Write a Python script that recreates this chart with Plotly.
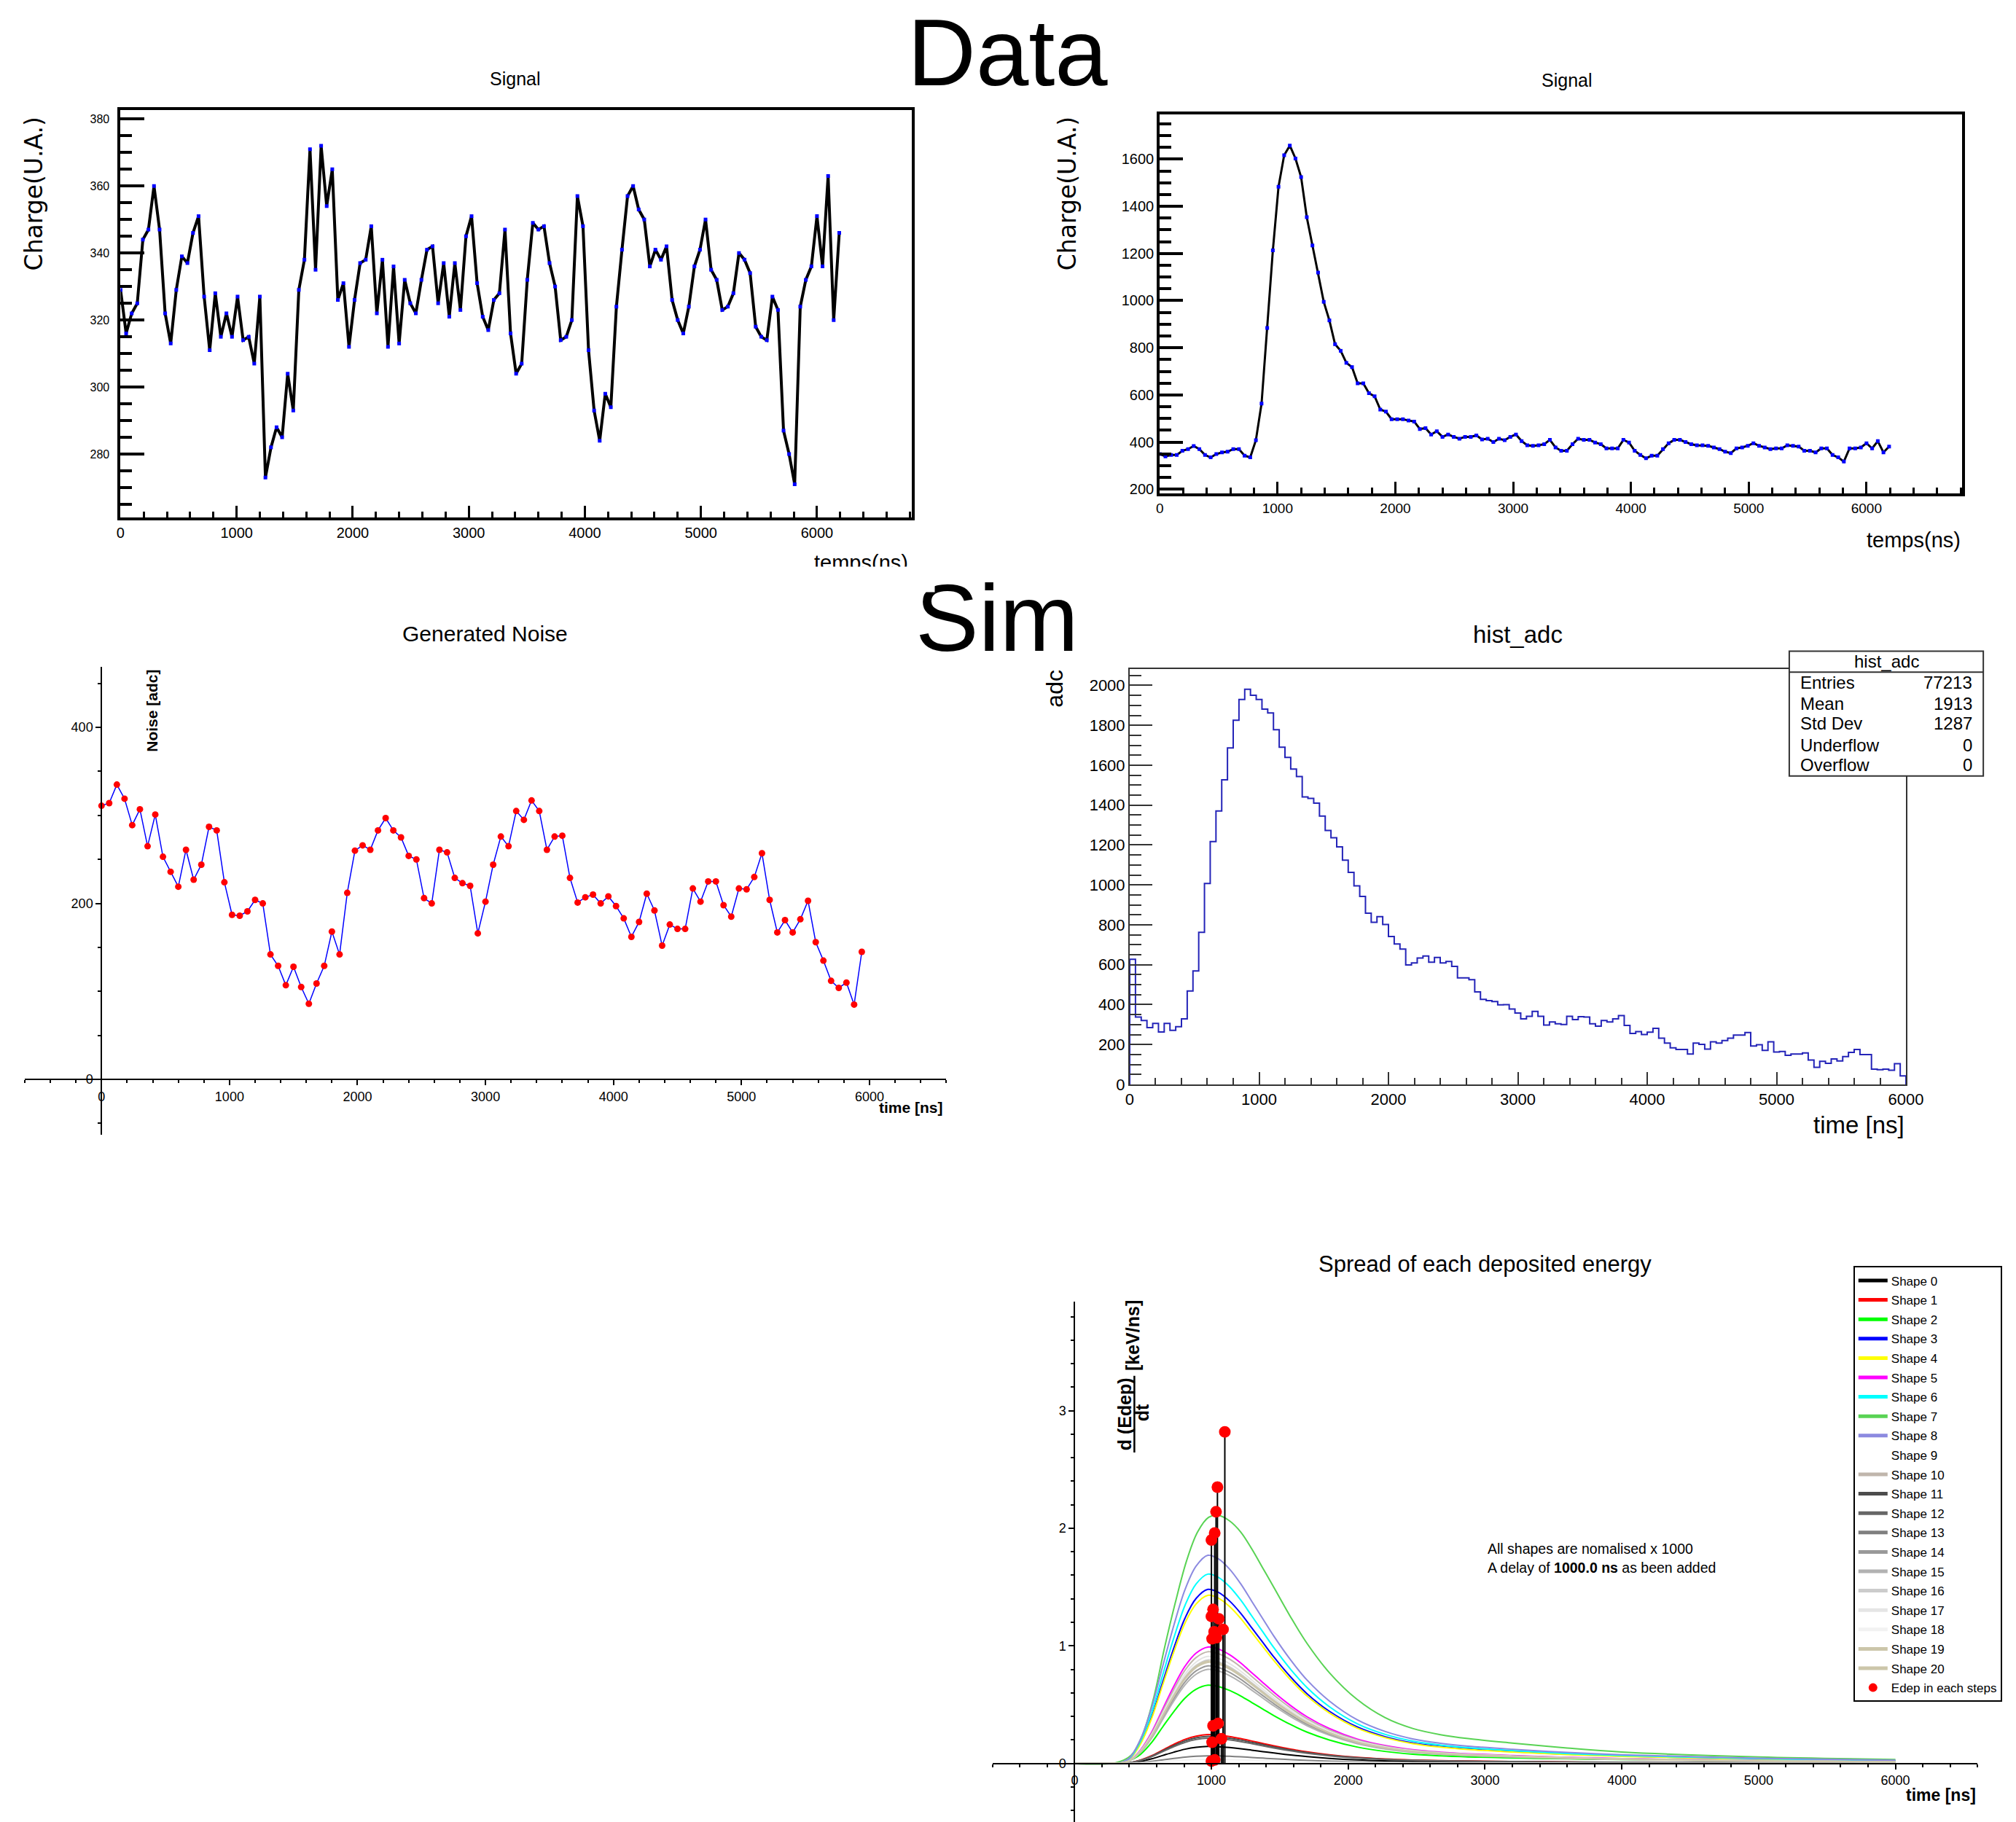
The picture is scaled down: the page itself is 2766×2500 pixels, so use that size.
import plotly.graph_objects as go

# ---------------- data ----------------
signal_sample_ns = 48
signal1_charge = [
    329, 316, 322, 325, 344, 347, 360, 347, 322, 313,
    329, 339, 337, 346, 351, 327, 311, 328, 315, 322,
    315, 327, 314, 315, 307, 327, 273, 282, 288, 285,
    304, 293, 329, 338, 371, 335, 372, 354, 365, 326,
    331, 312, 326, 337, 338, 348, 322, 338, 312, 336,
    313, 332, 325, 322, 332, 341, 342, 325, 337, 321,
    337, 323, 345, 351, 331, 321, 317, 326, 328, 347,
    316, 304, 307, 332, 349, 347, 348, 337, 330, 314,
    315, 320, 357, 348, 311, 293, 284, 298, 294, 324,
    341, 357, 360, 353, 350, 336, 341, 338, 342, 326,
    320, 316, 324, 336, 341, 350, 335, 332, 323, 324,
    328, 340, 338, 334, 318, 315, 314, 327, 323, 287,
    280, 271, 324, 332, 336, 351, 336, 363, 320, 346]

signal2_charge = [
    349, 339, 345, 345, 363, 370, 383, 370, 345, 335,
    349, 356, 359, 370, 370, 342, 335, 408, 563, 884,
    1213, 1483, 1617, 1658, 1603, 1524, 1354, 1234, 1119, 995,
    916, 815, 787, 736, 718, 649, 649, 607, 594, 538,
    529, 497, 497, 497, 491, 487, 455, 459, 432, 446,
    422, 432, 422, 414, 422, 422, 428, 411, 414, 400,
    414, 408, 422, 432, 404, 386, 384, 386, 391, 409,
    377, 363, 363, 391, 414, 409, 409, 398, 391, 373,
    373, 373, 409, 398, 363, 345, 331, 342, 342, 370,
    395, 409, 409, 400, 391, 386, 386, 384, 377, 370,
    359, 353, 373, 377, 384, 395, 384, 377, 370, 373,
    373, 386, 384, 381, 363, 363, 356, 373, 373, 345,
    335, 317, 373, 373, 377, 395, 373, 404, 356, 381]

noise_sample_ns = 60
noise_adc = [
    311, 314, 335, 319, 289, 307, 265, 301, 253, 236,
    219, 261, 227, 244, 287, 283, 224, 187, 186, 191,
    204, 200, 142, 129, 107, 128, 105, 86, 109, 129,
    168, 142, 212, 260, 266, 261, 283, 297, 283, 275,
    254, 250, 206, 200, 261, 258, 229, 223, 220, 166,
    202, 244, 276, 265, 305, 295, 317, 305, 261, 276,
    277, 229, 201, 207, 210, 200, 208, 197, 183, 162,
    179, 211, 192, 152, 176, 171, 171, 217, 202, 225,
    225, 198, 185, 217, 216, 230, 257, 204, 167, 181,
    167, 182, 203, 156, 135, 112, 104, 110, 85, 145]

hist_range_ns = [0, 6000]
hist_adc_counts = [
    627, 338, 320, 285, 306, 263, 306, 271, 289, 329,
    468, 569, 762, 1007, 1217, 1371, 1527, 1687, 1825, 1930,
    1981, 1951, 1930, 1881, 1862, 1778, 1690, 1639, 1581, 1543,
    1441, 1434, 1410, 1345, 1273, 1236, 1191, 1124, 1063, 995,
    942, 858, 813, 841, 802, 741, 704, 678, 599, 609,
    634, 644, 613, 636, 609, 616, 592, 534, 534, 525,
    464, 426, 420, 415, 399, 400, 378, 358, 329, 341,
    366, 341, 298, 313, 304, 300, 341, 325, 340, 338,
    304, 292, 320, 313, 329, 345, 296, 256, 265, 250,
    262, 281, 232, 207, 183, 175, 175, 152, 207, 201,
    177, 214, 207, 220, 232, 247, 247, 260, 193, 199,
    171, 214, 162, 165, 146, 152, 152, 158, 122, 86,
    116, 106, 128, 118, 140, 161, 175, 150, 150, 77,
    74, 77, 71, 104, 43]
hist_stats_labels = ["Entries", "Mean", "Std Dev", "Underflow", "Overflow"]
hist_stats_values = ["77213", "1913", "1287", "0", "0"]

shape_names = ["Shape %d" % i for i in range(21)]
shape_peak = [0.145, 0.245, 0.665, 1.48, 1.43, 0.99, 1.61, 2.11, 1.77, 0.5,
              0.95, 0.23, 0.215, 0.065, 0.83, 0.80, 0.88, 0.91, 0.035, 0.87, 0.86]
shape_profile = ["std"] * 7 + ["wide"] + ["std"] * 13
profile_std_t = [0, 250, 341, 402, 483, 564, 645, 726, 807, 888, 974, 1051, 1132, 1214,
                 1295, 1376, 1457, 1578, 1700, 1862, 2065, 2268, 2471, 2674, 2877, 3200,
                 3600, 4000, 5000, 6000]
profile_std_v = [0, 0, 0.005, 0.027, 0.118, 0.27, 0.47, 0.665, 0.835, 0.948, 1.0, 0.983,
                 0.934, 0.863, 0.779, 0.695, 0.611, 0.498, 0.40, 0.30, 0.21, 0.154, 0.118,
                 0.097, 0.083, 0.068, 0.053, 0.042, 0.025, 0.015]
profile_wide_t = [0, 300, 413, 494, 575, 656, 737, 818, 899, 980, 1051, 1132, 1214, 1295,
                  1376, 1457, 1578, 1700, 1862, 2065, 2268, 2471, 2674, 2877, 3200, 3600,
                  4000, 5000, 6000]
profile_wide_v = [0, 0.003, 0.033, 0.112, 0.258, 0.463, 0.65, 0.816, 0.933, 0.992, 1.0,
                  0.978, 0.933, 0.865, 0.787, 0.709, 0.591, 0.483, 0.366, 0.258, 0.185,
                  0.141, 0.116, 0.100, 0.082, 0.062, 0.046, 0.026, 0.016]
edep_t = [1098, 1044, 1034, 1024, 1000, 1012, 1000, 1054, 1020, 1085, 1005, 1037,
          1012, 1049, 1005, 1073, 1024, 1000]
edep_v = [2.82, 2.35, 2.14, 1.96, 1.90, 1.31, 1.25, 1.23, 1.12, 1.14, 1.06, 1.07,
          0.32, 0.34, 0.18, 0.21, 0.03, 0.02]

# ---------------- styles ----------------
shape_colors = ["#000000", "#ff0000", "#00ff00", "#0000ff", "#ffff00", "#ff00ff", "#00ffff",
                "#59d354", "#8c8ae0", "#ffffff", "#c0b6ac", "#4c4c4c", "#666666", "#7f7f7f",
                "#999999", "#b2b2b2", "#cccccc", "#e5e5e5", "#f2f2f2", "#ccc6aa", "#ccc6aa"]

# layout is designed in a 2766x2500 pixel space and expressed as paper fractions
W, H = 2766, 2500
FIG_W, FIG_H = 2786, 2518
def fx(p): return p / W
def fy(p): return 1 - p / H

NARROW = "Liberation Sans Narrow, Arial Narrow, Liberation Sans, sans-serif"
SANS = "Liberation Sans, Arial, sans-serif"

fig = go.Figure()

# Panel 1
t1 = [i * signal_sample_ns for i in range(len(signal1_charge))]
fig.add_trace(go.Scatter(x=t1, y=signal1_charge, mode="lines+markers", xaxis="x", yaxis="y",
                         line=dict(color="black", width=4),
                         marker=dict(symbol="square", size=5, color="#0000ff"),
                         showlegend=False))
# Panel 2
t2 = [i * signal_sample_ns for i in range(len(signal2_charge))]
fig.add_trace(go.Scatter(x=t2, y=signal2_charge, mode="lines+markers", xaxis="x2", yaxis="y2",
                         line=dict(color="black", width=3),
                         marker=dict(symbol="square", size=5, color="#0000ff"),
                         showlegend=False))
# Panel 3
t3 = [i * noise_sample_ns for i in range(len(noise_adc))]
fig.add_trace(go.Scatter(x=t3, y=noise_adc, mode="lines+markers", xaxis="x3", yaxis="y3",
                         line=dict(color="#0000ff", width=1.5),
                         marker=dict(symbol="circle", size=9, color="#ff0000"),
                         showlegend=False))
# Panel 4 histogram
nb = len(hist_adc_counts)
bw = (hist_range_ns[1] - hist_range_ns[0]) / nb
hx = [hist_range_ns[0]] + [hist_range_ns[0] + i * bw for i in range(nb)] + [hist_range_ns[1], hist_range_ns[1]]
hy = [0] + list(hist_adc_counts) + [hist_adc_counts[-1], 0]
fig.add_trace(go.Scatter(x=hx, y=hy, mode="lines", line=dict(color="#2424b8", width=2, shape="hv"),
                         xaxis="x4", yaxis="y4", showlegend=False))
# Panel 5 shapes
for i, name in enumerate(shape_names):
    if shape_profile[i] == "wide":
        pt, pv = profile_wide_t, profile_wide_v
    else:
        pt, pv = profile_std_t, profile_std_v
    fig.add_trace(go.Scatter(x=pt, y=[shape_peak[i] * v for v in pv], mode="lines",
                             line=dict(color=shape_colors[i], width=2, shape="spline"),
                             name=name, legendgroup=name, xaxis="x5", yaxis="y5"))
fig.add_trace(go.Scatter(x=edep_t, y=edep_v, mode="markers", name="Edep in each steps",
                         legendgroup="edep",
                         marker=dict(color="#ff0000", size=16),
                         error_y=dict(type="data", symmetric=False, array=[0] * len(edep_v),
                                      arrayminus=edep_v, color="black", thickness=2, width=0),
                         xaxis="x5", yaxis="y5"))

# ---------------- axes ----------------
def root_frame_axis(dom, rng, dtick, mdtick, tlen, mlen, lw, tw, fsize, font, lcolor="black"):
    return dict(domain=dom, range=rng, showline=True, mirror=True, linecolor=lcolor,
                linewidth=lw, ticks="inside", ticklen=tlen, tickwidth=tw, tickcolor=lcolor,
                dtick=dtick, tick0=0, showgrid=False, zeroline=False,
                minor=dict(dtick=mdtick, ticks="inside", ticklen=mlen, tickwidth=tw,
                           tickcolor=lcolor, showgrid=False),
                tickfont=dict(family=font, size=fsize, color="black"))

x1d = [fx(160), fx(1250)]; y1d = [fy(709), fy(151)]
x2d = [fx(1591), fx(2696)]; y2d = [fy(676), fy(157)]
x4d = [fx(1549.6), fx(2618.5)]; y4d = [fy(1485), fy(916.6)]
x3d = [fx(28), fx(1297)]; y3d = [fy(1554), fy(913)]
x5d = [fx(1360.7), fx(2717)]; y5d = [0, fy(1782)]
x3r = [-600, 6600]; y3r = [-63, 469]
x5r = [-600, 6600]; y5r = [-0.529, 3.93]

def zero_pos(dom, rng):
    return dom[0] + (0 - rng[0]) / (rng[1] - rng[0]) * (dom[1] - dom[0])

def cross_axis(dom, rng, pos, dtick, mdtick, fsize):
    return dict(domain=dom, range=rng, anchor="free", position=pos, showline=True,
                linecolor="black", linewidth=2, ticks="outside", ticklen=7, tickwidth=1.5,
                tickcolor="black", dtick=dtick, tick0=0, showgrid=False, zeroline=False,
                minor=dict(dtick=mdtick, ticks="outside", ticklen=4, tickwidth=1.5,
                           tickcolor="black", showgrid=False),
                tickfont=dict(family=SANS, size=fsize, color="black"))

yaxis1 = dict(root_frame_axis(y1d, [261, 382.6], 20, 5, 33, 16, 4, 4, 16, NARROW), anchor="x")
yaxis1["ticklabelstandoff"] = 8

layout = dict(
    width=FIG_W, height=FIG_H, margin=dict(l=0, r=0, t=0, b=0),
    paper_bgcolor="white", plot_bgcolor="white",
    xaxis=dict(root_frame_axis(x1d, [0, 6820], 1000, 200, 16, 8, 4, 3, 20, NARROW), anchor="y"),
    yaxis=yaxis1,
    xaxis2=dict(root_frame_axis(x2d, [0, 6813], 1000, 200, 16, 8, 4, 3, 19, NARROW), anchor="y2"),
    yaxis2=dict(root_frame_axis(y2d, [181, 1789], 200, 50, 32, 16, 4, 4, 20, NARROW), anchor="x2"),
    xaxis4=dict(root_frame_axis(x4d, hist_range_ns, 1000, 200, 17, 9, 2, 2, 22, SANS, "#333333"), anchor="y4"),
    yaxis4=dict(root_frame_axis(y4d, [0, 2080.5], 200, 50, 31, 16, 2, 2, 22, SANS, "#333333"), anchor="x4"),
    xaxis3=cross_axis(x3d, x3r, zero_pos(y3d, y3r), 1000, 200, 18),
    yaxis3=cross_axis(y3d, y3r, zero_pos(x3d, x3r), 200, 50, 18),
    xaxis5=cross_axis(x5d, x5r, zero_pos(y5d, y5r), 1000, 200, 18),
    yaxis5=cross_axis(y5d, y5r, zero_pos(x5d, x5r), 1, 0.2, 18),
    legend=dict(x=fx(2546), y=fy(1734), xanchor="left", yanchor="top",
                bgcolor="white", bordercolor="black", borderwidth=2,
                font=dict(family=SANS, size=17, color="black"),
                tracegroupgap=1.5, itemwidth=40, itemsizing="constant"),
    showlegend=True,
)
fig.update_layout(**layout)

ann = []
def txt(text, x, y, size, family=SANS, angle=0, xanchor="center", yanchor="middle", color="black"):
    ann.append(dict(text=text, x=fx(x), y=fy(y), xref="paper", yref="paper", showarrow=False,
                    xanchor=xanchor, yanchor=yanchor, textangle=angle,
                    font=dict(family=family, size=size, color=color)))

txt("Data", 1381, 72, 130)
txt("Sim", 1367, 846, 130)
txt("Signal", 704, 108, 25, NARROW)
txt("Signal", 2152, 110, 25, NARROW)
txt("Charge(U.A.)", 41, 265, 33, "DejaVu Sans", -90)
txt("Charge(U.A.)", 1464, 265, 33, "DejaVu Sans", -90)
txt("temps(ns)", 2696, 740, 29, NARROW, xanchor="right")
txt("temps(ns)", 1247, 770, 29, NARROW, xanchor="right")
# white cover: the lower part of this x title is cropped in the original picture
ann.append(dict(text=" ", x=fx(1180), y=fy(793), xref="paper", yref="paper", showarrow=False,
                width=200, height=34, bgcolor="white", borderpad=0, xanchor="center", yanchor="middle"))
txt("Generated Noise", 662, 868, 30)
txt("<b>Noise [adc]</b>", 203.5, 973, 21, angle=-90)
txt("<b>time [ns]</b>", 1295, 1516, 21, xanchor="right")
txt("hist_adc", 2084, 869, 33)
txt("adc", 1446, 943, 32, angle=-90)
txt("time [ns]", 2618.5, 1540, 33, xanchor="right")
txt("Spread of each deposited energy", 2039, 1731, 31)
txt("<b>d (Edep)</b>", 1542, 1936, 25, angle=-90)
txt("<b>dt</b>", 1567, 1934, 25, angle=-90)
txt("<b>[keV/ns]</b>", 1553, 1829, 25, angle=-90)
txt("<b>time [ns]</b>", 2717, 2458, 23, xanchor="right")
txt("All shapes are nomalised x 1000", 2040, 2121, 19.5, xanchor="left")
txt("A delay of <b>1000.0 ns</b> as been added", 2040, 2146.5, 19.5, xanchor="left")

# stats box text
txt("hist_adc", 2591.4, 906, 24)
rows_y = [934.8, 963.5, 991, 1020, 1047.7]
for lab, val, yy in zip(hist_stats_labels, hist_stats_values, rows_y):
    txt(lab, 2471, yy, 24, xanchor="left")
    txt(val, 2712, yy, 24, xanchor="right")

fig.update_layout(annotations=ann)

shapes = [
    # stats box
    dict(type="rect", xref="paper", yref="paper", x0=fx(2457.8), x1=fx(2725), y0=fy(1062.5), y1=fy(891.7),
         fillcolor="white", line=dict(color="#333333", width=2), layer="above"),
    dict(type="line", xref="paper", yref="paper", x0=fx(2457.8), x1=fx(2725), y0=fy(920.4), y1=fy(920.4),
         line=dict(color="#333333", width=2), layer="above"),
    # fraction bar of the y title
    dict(type="line", xref="paper", yref="paper", x0=fx(1556), x1=fx(1556), y0=fy(1989), y1=fy(1884),
         line=dict(color="black", width=2.5), layer="above"),
]
fig.update_layout(shapes=shapes)

fig.write_html("out.html", config={"displayModeBar": False},
               post_script="document.body.style.margin='0px';document.body.style.padding='0px';"
                           "document.body.style.overflow='hidden';")
